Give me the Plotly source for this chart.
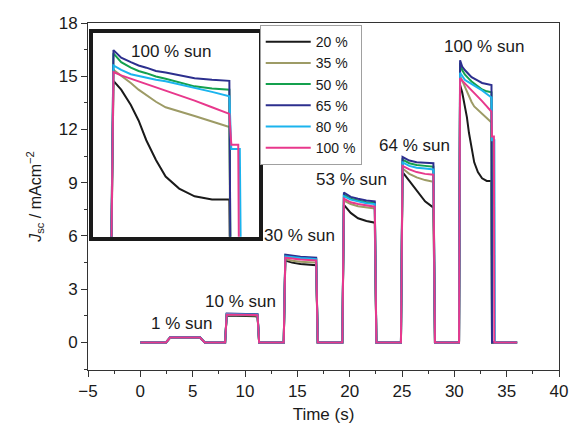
import plotly.graph_objects as go

# Time axis shared by all photocurrent traces (s)
TIME = [0.0,
        2.45, 2.85, 5.7, 6.15,
        8.1, 8.25, 9.0, 10.0, 11.2, 11.35,
        13.7, 13.85, 14.5, 15.3, 16.1, 16.8, 16.95,
        19.3, 19.45, 20.1, 20.8, 21.6, 22.4, 22.55,
        24.9, 25.05, 25.7, 26.4, 27.2, 28.0, 28.15,
        30.45, 30.55, 30.75, 31.0, 31.2, 31.4, 31.65, 31.9, 32.25, 32.65, 33.1, 33.55,
        33.6, 33.78, 33.82, 33.88,
        36.0]

# Short-circuit current density (mA cm^-2) for each sample
J_20 = [0,
        0, 0.27, 0.27, 0,
        0, 1.52, 1.5, 1.48, 1.47, 0,
        0, 4.62, 4.5, 4.42, 4.38, 4.35, 0,
        0, 7.75, 7.3, 7.0, 6.85, 6.75, 0,
        0, 9.6, 9.1, 8.55, 7.95, 7.6, 0,
        0, 14.5, 14.1, 13.4, 12.7, 11.8, 10.9, 10.15, 9.6, 9.25, 9.1, 9.1,
        0, 0, 0, 0,
        0]
J_35 = [0,
        0, 0.28, 0.28, 0,
        0, 1.56, 1.54, 1.53, 1.52, 0,
        0, 4.7, 4.6, 4.55, 4.52, 4.5, 0,
        0, 8.0, 7.8, 7.68, 7.6, 7.55, 0,
        0, 9.8, 9.5, 9.3, 9.15, 9.05, 0,
        0, 15.0, 14.75, 14.4, 14.1, 13.85, 13.55, 13.3, 13.1, 12.9, 12.65, 12.4,
        0, 0, 0, 0,
        0]
J_50 = [0,
        0, 0.28, 0.28, 0,
        0, 1.6, 1.58, 1.57, 1.56, 0,
        0, 4.9, 4.83, 4.78, 4.75, 4.72, 0,
        0, 8.35, 8.1, 8.0, 7.9, 7.85, 0,
        0, 10.3, 10.1, 10.0, 9.95, 9.9, 0,
        0, 15.75, 15.35, 15.1, 14.95, 14.85, 14.7, 14.6, 14.45, 14.25, 14.15, 14.1,
        0, 0, 0, 0,
        0]
J_65 = [0,
        0, 0.29, 0.29, 0,
        0, 1.63, 1.61, 1.6, 1.59, 0,
        0, 4.95, 4.88, 4.83, 4.8, 4.78, 0,
        0, 8.45, 8.2, 8.1, 8.0, 7.95, 0,
        0, 10.45, 10.25, 10.15, 10.12, 10.1, 0,
        0, 15.9, 15.55, 15.35, 15.2, 15.1, 14.95, 14.88, 14.75, 14.62, 14.55, 14.5,
        0, 0, 0, 0,
        0]
J_80 = [0,
        0, 0.28, 0.28, 0,
        0, 1.6, 1.58, 1.57, 1.56, 0,
        0, 4.85, 4.8, 4.76, 4.73, 4.7, 0,
        0, 8.25, 8.05, 7.95, 7.85, 7.8, 0,
        0, 10.15, 9.95, 9.85, 9.8, 9.75, 0,
        0, 15.2, 15.0, 14.8, 14.72, 14.65, 14.55, 14.48, 14.35, 14.2, 14.0, 13.8,
        11.4, 11.4, 11.4, 0,
        0]
J_100 = [0,
         0, 0.28, 0.28, 0,
         0, 1.58, 1.56, 1.55, 1.54, 0,
         0, 4.78, 4.72, 4.68, 4.65, 4.62, 0,
         0, 8.1, 7.9, 7.8, 7.72, 7.65, 0,
         0, 9.95, 9.75, 9.6, 9.5, 9.45, 0,
         0, 14.9, 14.75, 14.6, 14.48, 14.35, 14.2, 14.08, 13.85, 13.6, 13.3, 13.0,
         11.6, 11.6, 0, 0,
         0]

SERIES_LABELS = ["20 %", "35 %", "50 %", "65 %", "80 %", "100 %"]
SERIES_VALUES = [J_20, J_35, J_50, J_65, J_80, J_100]
SERIES_COLORS = ["#1a1a1a", "#9d9b66", "#14a04e", "#2c2f8e", "#1bb4ee", "#e8388c"]

SUN_LABELS = ["1 % sun", "10 % sun", "30 % sun", "53 % sun", "64 % sun", "100 % sun"]

FONT = "Liberation Sans, Arial, Helvetica, sans-serif"
TXT = "#1a1a1a"
AX = "#333333"

fig = go.Figure()

# main panel traces
for lab, vals, col in zip(SERIES_LABELS, SERIES_VALUES, SERIES_COLORS):
    fig.add_trace(go.Scatter(x=TIME, y=vals, mode="lines", name=lab,
                             line=dict(color=col, width=2),
                             xaxis="x", yaxis="y"))

# magnified view of the last pulse
for lab, vals, col in zip(SERIES_LABELS, SERIES_VALUES, SERIES_COLORS):
    fig.add_trace(go.Scatter(x=TIME, y=vals, mode="lines", name=lab,
                             line=dict(color=col, width=2), showlegend=False,
                             xaxis="x2", yaxis="y2"))

# pulse labels
sun_pos = [(3.9, 1.05), (9.55, 2.32), (15.2, 6.0), (20.2, 9.2), (26.2, 11.1), (32.8, 16.7)]
for text, (px, py) in zip(SUN_LABELS, sun_pos):
    fig.add_annotation(x=px, y=py, xref="x", yref="y", text=text, showarrow=False,
                       font=dict(family=FONT, size=17, color=TXT))
fig.add_annotation(x=32.05, y=15.85, xref="x2", yref="y2", text=SUN_LABELS[-1],
                   showarrow=False, font=dict(family=FONT, size=17, color=TXT))

fig.update_layout(
    width=579, height=431,
    margin=dict(l=88, r=11, t=23, b=54),
    paper_bgcolor="white", plot_bgcolor="white",
    font=dict(family=FONT, size=17, color=TXT),
    xaxis=dict(range=[-5, 40], tick0=-5, dtick=5, ticks="outside", ticklen=6,
               tickwidth=1, tickcolor=AX, showline=True, linecolor=AX, linewidth=1,
               mirror=True, showgrid=False, zeroline=False,
               minor=dict(dtick=2.5, ticks="outside", ticklen=3, tickcolor=AX),
               title=dict(text="Time (s)", standoff=7, font=dict(size=17)),
               tickfont=dict(size=17)),
    yaxis=dict(range=[-1.55, 18], tick0=0, dtick=3, ticks="outside", ticklen=6,
               tickwidth=1, tickcolor=AX, showline=True, linecolor=AX, linewidth=1,
               mirror=True, showgrid=False, zeroline=False,
               minor=dict(dtick=1.5, ticks="outside", ticklen=3, tickcolor=AX),
               title=dict(text="<i>J</i><sub>sc</sub> / mAcm<sup>\u22122</sup>",
                          standoff=13, font=dict(size=16)),
               tickfont=dict(size=17)),
    xaxis2=dict(domain=[0.0104, 0.3625], anchor="y2", range=[30.018, 34.31],
                showticklabels=False, ticks="", showline=True, linewidth=3.5,
                linecolor="#1a1a1a", mirror=True, showgrid=False, zeroline=False),
    yaxis2=dict(domain=[0.384, 0.972], anchor="x2", range=[7.41, 16.69],
                showticklabels=False, ticks="", showline=True, linewidth=3.5,
                linecolor="#1a1a1a", mirror=True, showgrid=False, zeroline=False),
    legend=dict(x=0.3646, y=0.994, xanchor="left", yanchor="top",
                bgcolor="white", bordercolor="#a0a0a0", borderwidth=1,
                itemwidth=45,
                font=dict(family=FONT, size=14, color=TXT), traceorder="normal"),
    showlegend=True,
)

fig.write_html("out.html")
